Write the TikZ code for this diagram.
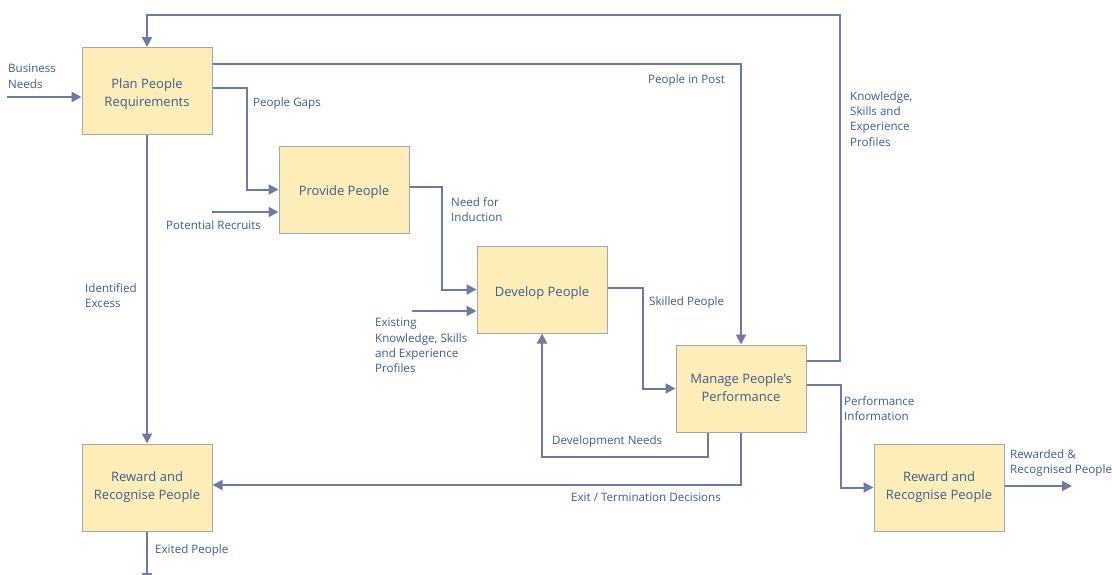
\documentclass[tikz,border=0pt]{standalone}
\usepackage{fontspec}
\setmainfont{Open Sans}
\usetikzlibrary{arrows.meta}
\definecolor{flowc}{HTML}{6E7AA4}
\definecolor{txt}{HTML}{3F5C8E}
\definecolor{boxfill}{HTML}{FDEDB8}
\definecolor{boxborder}{HTML}{A3A6AE}
\tikzset{
  box/.style={draw=boxborder, fill=boxfill, line width=1pt, minimum width=130pt, minimum height=87pt, inner sep=0pt},
  boxtxt/.style={font=\fontsize{13}{18}\selectfont, text=txt, align=center, inner sep=0pt},
  lbl/.style={font=\fontsize{11.6}{15.4}\selectfont, text=txt, align=left, anchor=north west, inner sep=0pt},
  flow/.style={draw=flowc, line width=2pt, -{Triangle[length=10pt,width=10pt]}}
}
\begin{document}
\begin{tikzpicture}[x=1pt,y=-1pt]
\clip (0,0) rectangle (1112,574);
\fill[white] (0,0) rectangle (1112,574);
% boxes
\node[box, label={[boxtxt,yshift=-3pt]center:Plan People\\Requirements}] (plan) at (147,91) {};
\node[box, label={[boxtxt,yshift=-3pt]center:Provide People}] (provide) at (344,189.5) {};
\node[box, label={[boxtxt,yshift=-4pt]center:Develop People}] (develop) at (542,289.5) {};
\node[box, label={[boxtxt,yshift=1pt]center:Manage People’s\\Performance}] (manage) at (741,388.5) {};
\node[box, label={[boxtxt]center:Reward and\\Recognise People}] (rewardL) at (147,487.5) {};
\node[box, label={[boxtxt]center:Reward and\\Recognise People}] (rewardR) at (939,487.5) {};
% free ends
\coordinate (bn) at (7,97);
\coordinate (pr) at (212,212);
\coordinate (ex) at (412,311);
\coordinate (exit) at (147,583);
\coordinate (rr) at (1072,486);
\coordinate (topc) at (840,15);
% connectors
\draw[flow] ([yshift=27.5pt]manage.east) -| (topc) -| (plan.north);
\draw[flow] ([yshift=27pt]plan.east) -| (manage.north);
\draw[flow] ([yshift=3pt]plan.east) -- ++(34,0) |- (provide.west);
\draw[flow] (pr) -- ([yshift=-22.5pt]provide.west);
\draw[flow] ([yshift=2.5pt]provide.east) -- ++(32,0) |- (develop.west);
\draw[flow] (ex) -- ([yshift=-21.5pt]develop.west);
\draw[flow] ([yshift=1.5pt]develop.east) -- ++(35,0) |- (manage.west);
\draw[flow] ([xshift=-33pt]manage.south) -- ++(0,24) -| (develop.south);
\draw[flow] (manage.south) |- ([yshift=2.5pt]rewardL.east);
\draw[flow] (plan.south) -- (rewardL.north);
\draw[flow] (rewardL.south) -- (exit);
\draw[flow] ([yshift=3.5pt]manage.east) -- ++(34,0) |- (rewardR.west);
\draw[flow] ([yshift=1.5pt]rewardR.east) -- (rr);
\draw[flow] (bn) -- ([yshift=-6pt]plan.west);
% labels
\node[lbl] (l1) at (8,64) {Business\\Needs};
\node[lbl] (l2) at (648,74) {People in Post};
\node[lbl] (l3) at (253,97) {People Gaps};
\node[lbl] (l4) at (166,220) {Potential Recruits};
\node[lbl] (l5) at (451,197) {Need for\\Induction};
\node[lbl] (l6) at (375,318) {Existing\\Knowledge, Skills\\and Experience\\Profiles};
\node[lbl] (l7) at (649,296) {Skilled People};
\node[lbl] (l8) at (552,435) {Development Needs};
\node[lbl] (l9) at (571,493) {Exit / Termination Decisions};
\node[lbl] (l10) at (85,283) {Identified\\Excess};
\node[lbl] (l11) at (155,544) {Exited People};
\node[lbl] (l12) at (844,396) {Performance\\Information};
\node[lbl] (l13) at (1010,449) {Rewarded \&\\Recognised People};
\node[lbl] (l14) at (850,91) {Knowledge,\\Skills and\\Experience\\Profiles};
\end{tikzpicture}
\end{document}
